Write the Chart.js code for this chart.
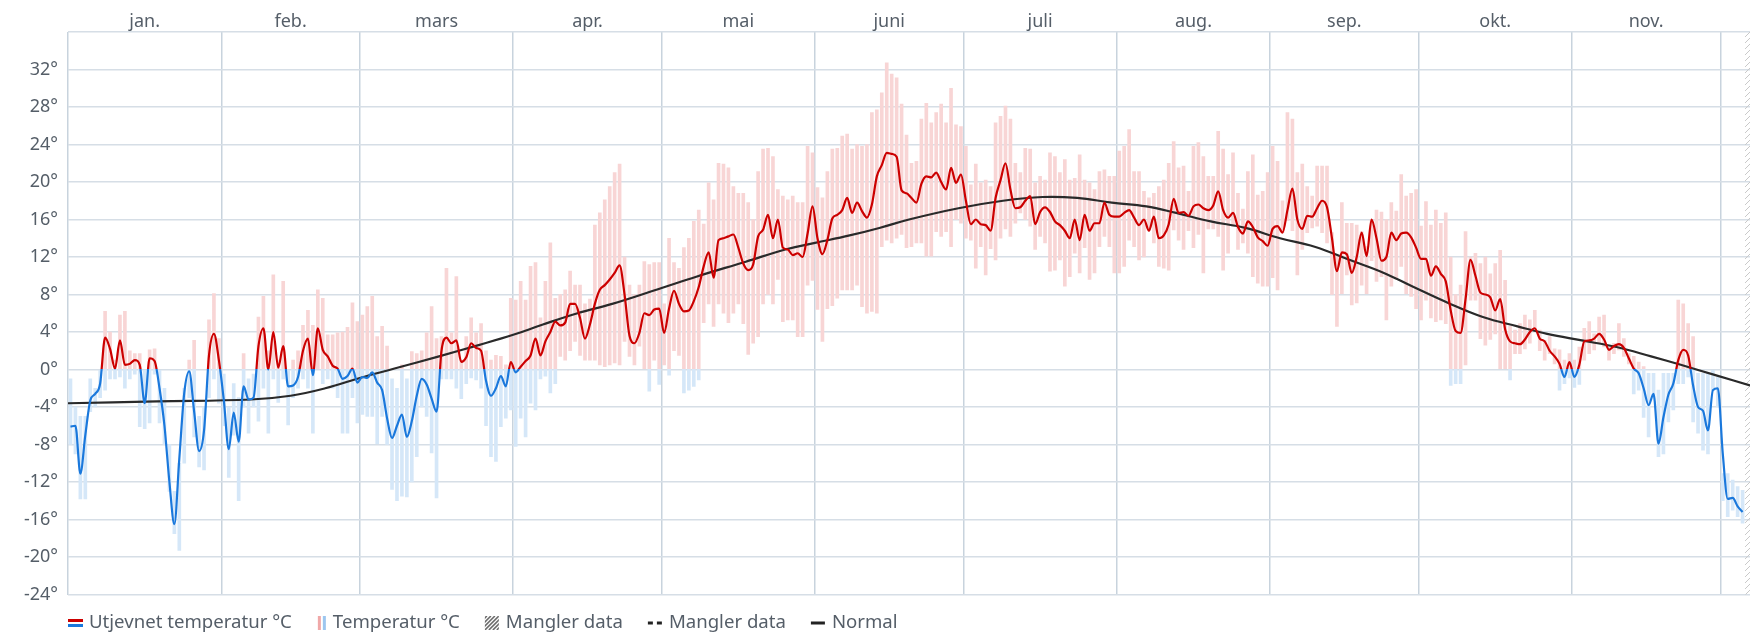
<!DOCTYPE html>
<html>
<head>
<meta charset="utf-8">
<script src="https://cdn.jsdelivr.net/npm/chart.js@4.4.1/dist/chart.umd.min.js"></script>
<style>
  html, body { margin: 0; padding: 0; background: #fff; }
  #wrap { width: 1752px; height: 632px; }
</style>
</head>
<body>
<div id="wrap"><canvas id="temperatur" width="1752" height="632"></canvas></div>
<script>
//// data
const monthNames = ["jan.", "feb.", "mars", "apr.", "mai", "juni", "juli", "aug.", "sep.", "okt.", "nov.", "des."]
const monthLengths = [31, 28, 31, 30, 31, 30, 31, 31, 30, 31, 30, 31]
const yMin = -24
const yMax = 36
const yStep = 4

// daily max per day from 1 jan
const tMax = [
    -1, -4, -5, -5, -1, -2, 0, 6.2, 4.0, 1,
    5.8, 6.2, 2, 1.7, 1.7, 0, 2.1, 2.2, 0, -2,
    -8, -13, -10, -2, 1, 3.1, -5, -4, 5.3, 8.1,
    3.3, -0.5, -4, -1.5, -3, 1.7, -1, -0.5, 5.6, 7.8,
    2, 10.1, 1, 9.4, 0, 1, 2, 4.7, 6.3, 4.7,
    8.5, 7.6, 3.7, 3.7, 3.9, 4.0, 4.5, 7.1, 5.1, 5.8,
    6.7, 7.8, 3.5, 4.6, 2.5, -1, -2, 0.5, -1, 1.9,
    1.7, 2, 3.9, 6.7, 3.3, 3.5, 10.8, 3.9, 9.9, 1,
    3.5, 5.5, 3.9, 4.9, 2, 1, 1.5, 1.4, 0.5, 7.6,
    7.4, 9.4, 7.4, 11, 11.4, 5.5, 9.4, 13.5, 7.6, 8,
    8.5, 10.5, 9.0, 9.0, 7, 7.5, 15.4, 16.7, 18.1, 19.5,
    21.0, 21.9, 12, 9, 8, 9, 11.5, 11.2, 11.4, 11.4,
    7, 14.0, 11.4, 10.8, 13, 14, 15.8, 17, 15.5, 19.9,
    18.1, 22.0, 21.9, 21.5, 19.5, 18.8, 18.8, 17.8, 16, 21.1,
    23.5, 23.6, 22.7, 19.2, 18.5, 18.1, 18.5, 17.8, 17.8, 23.8,
    23.1, 19.4, 18.3, 21.1, 23.5, 23.6, 24.9, 25.1, 23.5, 24.0,
    23.8, 24.0, 27.4, 27.7, 29.5, 32.7, 31.5, 31.1, 28.3, 25,
    22.0, 22.2, 26.7, 28.4, 26.3, 27.4, 28.3, 26.3, 30.0, 26.1,
    25.9, 23.8, 19.7, 21.9, 19.9, 20.2, 19.5, 26.3, 27.0, 28.1,
    26.7, 22, 21.0, 23.6, 23.5, 19.9, 20.6, 20.2, 23.1, 22.7,
    21.0, 22.4, 20.2, 20.4, 22.9, 20.2, 19.9, 19.2, 21.1, 21.3,
    20.6, 20.6, 23.3, 23.8, 25.6, 21.1, 21.1, 19.0, 18.3, 18.8,
    19.5, 20.2, 22.0, 24.3, 21.5, 21.7, 19, 23.8, 24.2, 22.7,
    20.6, 20.6, 25.4, 23.5, 20.8, 23.1, 18.8, 17.1, 21.1, 22.9,
    18.6, 19.0, 21.0, 23.8, 22.2, 18, 27.4, 26.7, 21.0, 21.9,
    19.5, 18.5, 21.7, 21.7, 21.7, 14.6, 12.1, 17.8, 15.6, 15.6,
    15.4, 14.7, 13.1, 16.0, 17.0, 16.8, 16.0, 17.8, 16.9, 20.8,
    18.5, 18.8, 19.2, 15.3, 17.9, 15.4, 17.0, 15.6, 16.7, 12,
    8, 9, 14.7, 12, 12.4, 11.3, 12.0, 10.2, 11.3, 12.7,
    9.5, 4.6, 4.2, 4.9, 5.8, 5.3, 6.3, 4.2, 3.1, 3.5,
    2.2, 2.1, 1.0, 1.7, 1.0, 2.4, 4.4, 5.1, 3.8, 5.6,
    5.8, 2.4, 2.8, 4.9, 3.3, 1.7, 1.4, 0.8, 0.3, -0.4,
    -0.4, -2.2, -0.4, -0.4, -0.4, 7.4, 7.0, 4.9, 3.5, -0.4,
    -0.4, -0.4, 0, -0.8, -11.1, -11.1, -11.8, -12.5, -12.9
]

// daily min
const tMin = [
    -8, -9, -13.8, -13.8, -4.5, -4, -3, -2.2, -1, -1,
    -0.8, -2, -1, -0.5, -6.1, -6.3, -5.7, -0.5, -5.7, -8,
    -13, -17.5, -19.3, -10, -3, -7.2, -10.4, -10.7, -3, -1,
    -3.6, -6, -11.5, -7, -14, -4, -6.8, -4, -5.5, -2,
    -6.8, -1, -3.5, -1, -5.9, -3, -2, -1, -2, -6.8,
    0, -1.5, -1, -2, -3, -6.8, -6.8, -3, -5.7, -4.8,
    -5, -5, -7.9, -5, -8, -12.8, -14.0, -13.5, -13.6, -12,
    -9.3, -4, -5, -8.9, -13.7, -1, -1, -1, -2, -3.1,
    -1.5, -0.9, -1.1, -2, -6, -9.3, -9.8, -6.1, -5.2, -4.3,
    -8.2, -5.2, -7.2, -3.6, -4.3, -1, -0.7, -2.5, -1.5, 1.4,
    1, 2, 3, 1.5, 1.0, 1, 1.0, 0.5, 0.3, 0.5,
    0.7, 0.5, 3, 1.4, 0.5, 2.5, 0, -2.3, 1, -1.6,
    0.5, -0.6, 2, 1.5, -2.5, -2.2, -1.8, -1.1, 5, 7,
    4.6, 7, 6, 5, 6, 7, 4.9, 1.6, 2.8, 3.5,
    7, 8, 7, 9.6, 5.1, 5.3, 5.3, 3.5, 3.5, 9,
    9.5, 6.4, 3.0, 6.5, 6.8, 7.6, 8.5, 8.5, 8.5, 9,
    6.7, 6.0, 6.2, 6.0, 13.1, 13.8, 13.5, 14, 14.4, 13,
    13.1, 13.5, 13.5, 12.1, 12.1, 14.7, 14.2, 14.7, 13.1, 16.0,
    15.6, 14.0, 13.8, 10.8, 13.1, 10.1, 12.9, 11.7, 14, 15,
    14.2, 15.6, 16.7, 16.0, 15.3, 12.8, 14.2, 13.5, 10.5, 10.6,
    11.7, 8.9, 9.9, 12.4, 10.3, 13.0, 9.6, 10.3, 13.1, 14.2,
    13.1, 10.3, 10.3, 11, 13.8, 13.1, 11.7, 12.0, 14.9, 13.5,
    11.0, 10.8, 10.6, 14.9, 13.8, 12.8, 14.8, 13.0, 14.4, 10.3,
    15.0, 15.0, 14.2, 10.6, 12.4, 15.3, 12.8, 13.5, 12.4, 9.9,
    9.2, 8.9, 8.9, 9.8, 8.5, 14.6, 15.9, 14.8, 10.1, 12.8,
    14.6, 15.1, 15.3, 14.6, 13.5, 8.0, 4.6, 8.1, 10.1, 6.9,
    7.1, 9.0, 8.1, 11.6, 9.4, 9.9, 5.3, 8.9, 9.6, 11.0,
    8.1, 7.8, 6.5, 5.3, 7.4, 5.5, 5.1, 5.3, 4.9, -1.7,
    -1.5, -1.5, 0.5, 7.4, 7.4, 3.3, 2.6, 3.2, 3.8, 0,
    0, -1.1, 1.7, 1.7, 2.2, 2.8, 4.4, 2.0, 1.0, 1.7,
    0.6, -2.2, -1.5, -0.9, -1.9, -1.6, 1.0, 1.7, 2.1, 2.8,
    2.4, 1.0, 1.7, 2.1, 1.4, 0.6, -2.6, -2.2, -5.1, -7.2,
    -2.9, -9.3, -9.0, -5.6, -4.3, -1.5, -1.5, -0.8, -5.6, -6.8,
    -8.6, -9.0, -2.2, -4.0, -14.0, -15.7, -15.0, -15.7, -16.4
]

// utjevnet (smoothed) temperature
const tSmooth = [
    -6.1, -6.0, -11.1, -7.0, -3.3, -2.6, -1.5, 3.4, 2.2, 0.1,
    3.1, 0.5, 0.6, 1.0, 0.5, -3.6, 1.2, 0.9, -2.0, -6.0,
    -12.0, -16.5, -9.5, -2.5, -0.2, -4.5, -8.7, -6.5, 1.5, 3.8,
    1.0, -3.3, -8.5, -4.6, -7.7, -1.8, -3.2, -3.0, 2.5, 4.4,
    0.0, 4.0, 0.2, 2.5, -1.8, -1.7, -0.8, 2.0, 3.3, -0.6,
    4.4, 2.1, 1.4, 0.4, 0.1, -1.0, -0.7, 0.1, -1.4, -0.8,
    -0.9, -0.3, -1.4, -2.2, -5.2, -7.3, -6.0, -4.8, -7.2, -5.5,
    -2.8, -1.0, -1.6, -3.1, -4.5, 2.0, 3.4, 2.8, 3.1, 0.8,
    1.3, 2.8, 2.3, 2.0, -1.2, -2.8, -2.0, -0.7, -1.8, 0.8,
    -0.3, 0.3, 0.9, 1.5, 3.3, 1.5, 3.0, 4.0, 5.1, 4.7,
    5.0, 7.0, 7.0, 5.5, 3.3, 4.8, 7.0, 8.5, 9.0, 9.6,
    10.3, 11.1, 8.0, 3.6, 2.8, 3.9, 6.0, 5.8, 6.4, 6.5,
    3.9, 6.5, 8.4, 7.0, 6.2, 6.3, 7.3, 8.8, 11.0, 12.5,
    9.8, 13.8, 14.0, 14.2, 14.4, 13.0, 11.3, 10.6, 11.2, 14.2,
    14.9, 16.5, 14.0, 16.0, 13.0, 12.8, 12.2, 12.4, 12.0, 14.5,
    17.4, 14.0, 12.3, 13.8, 16.1, 16.5, 17.0, 18.3, 16.7, 17.8,
    16.9, 16.2, 17.6, 20.6, 21.8, 23.1, 23.0, 22.7, 19.1, 18.8,
    18.3, 17.8, 19.8, 20.6, 20.5, 21.0, 20.0, 19.2, 21.5, 19.9,
    20.8, 18.0, 15.5, 16.0, 15.5, 15.4, 14.8, 18.3, 20.2, 22.0,
    19.2, 17.2, 17.3, 18.0, 18.5, 15.5, 16.8, 17.3, 16.8, 15.8,
    15.4, 14.8, 14.0, 16.0, 13.8, 16.5, 14.8, 15.6, 15.6, 17.8,
    16.5, 16.3, 16.3, 16.7, 17.0, 16.2, 15.4, 16.0, 14.8, 16.3,
    14.0, 14.3, 15.5, 18.2, 16.7, 16.8, 16.4, 17.4, 17.6, 17.2,
    17.0, 17.5, 19.0, 17.0, 16.2, 16.7, 15.2, 14.5, 15.8, 15.2,
    14.1, 13.7, 13.2, 15.0, 15.3, 14.6, 17.0, 19.3, 16.0, 15.0,
    16.4, 16.3, 17.2, 18.0, 17.3, 14.0, 10.5, 12.5, 12.3, 10.3,
    12.0, 14.6, 12.1, 16.0, 14.0, 11.6, 12.0, 14.6, 13.8, 14.5,
    14.6, 14.1, 13.0, 11.8, 11.8, 10.0, 11.0, 10.2, 9.4, 6.3,
    4.1, 3.9, 7.5, 11.7, 10.0, 8.2, 8.0, 7.7, 6.3, 7.5,
    4.3, 3.0, 2.8, 2.7, 3.2, 4.0, 4.4, 3.3, 3.0, 2.0,
    1.4, 0.6, -0.8, 0.8, -0.8, 0.5, 3.0, 3.1, 3.3, 3.8,
    3.2, 2.1, 2.5, 2.7, 2.3, 1.2, 0.1, -0.4, -2.0, -3.8,
    -2.6, -7.9, -5.1, -2.7, -1.5, 1.0, 2.1, 1.5, -1.7, -4.0,
    -4.4, -6.5, -2.2, -2.0, -9.0, -13.8, -13.7, -14.6, -15.2
]

// normal, read at some days
const normalDays = [0, 18, 37, 45, 52, 59, 66, 75, 83, 90, 96, 103, 110, 120, 127, 137, 145, 151, 158, 164, 170, 180, 189, 197, 204, 211, 218, 224, 231, 238, 245, 252, 259, 266, 272, 279, 286, 293, 299, 306, 313, 320, 326, 333, 340]
const normalTemps = [-3.6, -3.4, -3.2, -2.8, -2.0, -0.9, 0.1, 1.4, 2.6, 3.7, 4.8, 6.0, 7.0, 8.7, 9.9, 11.5, 12.8, 13.5, 14.3, 15.1, 16.0, 17.2, 18.0, 18.4, 18.3, 17.8, 17.4, 16.7, 15.8, 15.1, 14.0, 13.1, 11.7, 10.3, 8.8, 7.1, 5.6, 4.6, 3.8, 3.1, 2.4, 1.4, 0.5, -0.6, -1.7]

const legendLabels = ["Utjevnet temperatur °C", "Temperatur °C", "Mangler data", "Mangler data", "Normal"]
const legendIcons = ["utjevnet", "temperatur", "skravur", "stiplet", "normal"]


//// styles
const red = '#cc0000'
const blue = '#1a78dc'
const barRed = '#f8d5d5'
const barBlue = '#d5e7f8'
const gridColor = '#d6dee6'
const monthGridColor = '#c8d3dd'
const textColor = '#555e68'
const fontFamily = "'Noto Sans', sans-serif"

Chart.defaults.font.family = fontFamily


//// helpers
const monthStarts = []
let acc = 0
monthLengths.forEach(l => { monthStarts.push(acc); acc += l })
const xMax = 340
const monthCentres = monthStarts.map((s, i) => s + monthLengths[i] / 2)
const missingFrom = tSmooth.length

function splitAtZero(context, above, below) {
    const chart = context.chart
    const area = chart.chartArea
    if (!area) return above
    const y0 = chart.scales.y.getPixelForValue(0)
    const stop = Math.min(Math.max((y0 - area.top) / (area.bottom - area.top), 0), 1)
    const g = chart.ctx.createLinearGradient(0, area.top, 0, area.bottom)
    g.addColorStop(0, above)
    g.addColorStop(stop, above)
    g.addColorStop(stop, below)
    g.addColorStop(1, below)
    return g
}

function hatchPattern(ctx) {
    const p = document.createElement('canvas')
    p.width = 6; p.height = 6
    const c = p.getContext('2d')
    c.strokeStyle = '#c9c9c9'
    c.lineWidth = 1
    c.beginPath()
    c.moveTo(0, 6); c.lineTo(6, 0)
    c.moveTo(-1, 1); c.lineTo(1, -1)
    c.moveTo(5, 7); c.lineTo(7, 5)
    c.stroke()
    return ctx.createPattern(p, 'repeat')
}


//// plugins
const missingPlugin = {
    id: 'manglerData',
    beforeDatasetsDraw(chart) {
        const {ctx, chartArea, scales} = chart
        const x0 = scales.x.getPixelForValue(missingFrom)
        if (x0 >= chartArea.right) return
        ctx.save()
        ctx.fillStyle = hatchPattern(ctx)
        ctx.fillRect(x0, chartArea.top, chartArea.right - x0, chartArea.bottom - chartArea.top)
        ctx.restore()
    }
}

// icon width in the legend, before the text
const iconSlot = { utjevnet: 21, temperatur: 16, skravur: 21, stiplet: 21, normal: 21 }

const legendPlugin = {
    id: 'bunnLegend',
    afterDraw(chart) {
        const c = chart.ctx
        const y = chart.height - 9
        let x = chart.chartArea.left
        c.save()
        c.font = "18.6px " + fontFamily
        c.textBaseline = 'middle'
        legendLabels.forEach((label, i) => {
            const kind = legendIcons[i]
            if (kind === 'utjevnet') {
                c.fillStyle = red; c.fillRect(x, y - 4, 15, 3)
                c.fillStyle = blue; c.fillRect(x, y + 1, 15, 3)
            } else if (kind === 'temperatur') {
                c.fillStyle = '#f0a8a8'; c.fillRect(x + 1, y - 7, 3, 14)
                c.fillStyle = '#9cc6ef'; c.fillRect(x + 6, y - 7, 3, 14)
            } else if (kind === 'skravur') {
                c.save()
                c.beginPath(); c.rect(x, y - 7, 14, 14); c.clip()
                c.strokeStyle = '#6b6b6b'; c.lineWidth = 1.6
                for (let k = -16; k < 20; k += 4) {
                    c.beginPath(); c.moveTo(x + k, y + 7); c.lineTo(x + k + 14, y - 7); c.stroke()
                }
                c.restore()
            } else if (kind === 'stiplet') {
                c.fillStyle = '#222'
                c.fillRect(x, y - 1.5, 5, 3)
                c.fillRect(x + 9, y - 1.5, 5, 3)
            } else {
                c.fillStyle = '#222'
                c.fillRect(x, y - 1.5, 14, 3)
            }
            x += iconSlot[kind]
            c.fillStyle = textColor
            c.fillText(label, x, y)
            x += c.measureText(label).width + 25
        })
        c.restore()
    }
}


//// chart
const dayX = tSmooth.map((v, i) => i + 0.5)

const temperaturChart = new Chart(document.querySelector('#temperatur'), {
    type: 'bar',
    data: {
        datasets: [
            // --- smoothed line, red over 0 and blue under ---
            {
                type: 'line',
                label: legendLabels[0],
                data: dayX.map((x, i) => ({x: x, y: tSmooth[i]})),
                borderColor: ctx => splitAtZero(ctx, red, blue),
                borderWidth: 2.2,
                pointRadius: 0,
                cubicInterpolationMode: 'monotone',
                order: 1
            },
            // --- normal ---
            {
                type: 'line',
                label: legendLabels[4],
                data: normalDays.map((d, i) => ({x: d, y: normalTemps[i]})),
                borderColor: '#2a2a2a',
                borderWidth: 2.2,
                pointRadius: 0,
                tension: 0.4,
                order: 2
            },
            // --- min/max bars ---
            {
                type: 'bar',
                label: legendLabels[1],
                data: dayX.map((x, i) => ({x: x, y: [tMin[i], tMax[i]]})),
                backgroundColor: ctx => splitAtZero(ctx, barRed, barBlue),
                borderWidth: 0,
                barThickness: 3,
                order: 3
            }
        ]
    },
    options: {
        responsive: false,
        animation: false,
        devicePixelRatio: 1,
        layout: { padding: { right: 2 } },
        plugins: {
            legend: { display: false },
            tooltip: { enabled: false }
        },
        scales: {
            x: {
                type: 'linear',
                position: 'bottom',
                offset: false,
                min: 0,
                max: xMax,
                afterBuildTicks: axis => { axis.ticks = monthStarts.map(v => ({value: v})) },
                afterFit: axis => { axis.height = 37.5 },
                ticks: { display: false },
                grid: { offset: false, color: monthGridColor, lineWidth: 1.5, drawTicks: false },
                border: { display: false }
            },
            xTop: {
                type: 'linear',
                position: 'top',
                offset: false,
                min: 0,
                max: xMax,
                afterBuildTicks: axis => { axis.ticks = monthCentres.filter(v => v < xMax).map(v => ({value: v})) },
                afterFit: axis => { axis.height = 32 },
                ticks: {
                    autoSkip: false,
                    maxRotation: 0,
                    padding: -1,
                    color: textColor,
                    font: { size: 18 },
                    callback: (v, i) => monthNames[i]
                },
                grid: { display: false, offset: false, drawTicks: false },
                border: { display: false }
            },
            y: {
                min: yMin,
                max: yMax,
                afterFit: axis => { axis.width = 68 },
                ticks: {
                    stepSize: yStep,
                    padding: 10,
                    color: textColor,
                    font: { size: 18 },
                    callback: v => v === yMax ? '' : v + '°'
                },
                grid: { color: gridColor, lineWidth: 1.5, drawTicks: false },
                border: { display: false }
            }
        }
    },
    plugins: [missingPlugin, legendPlugin]
});
</script>
</body>
</html>
